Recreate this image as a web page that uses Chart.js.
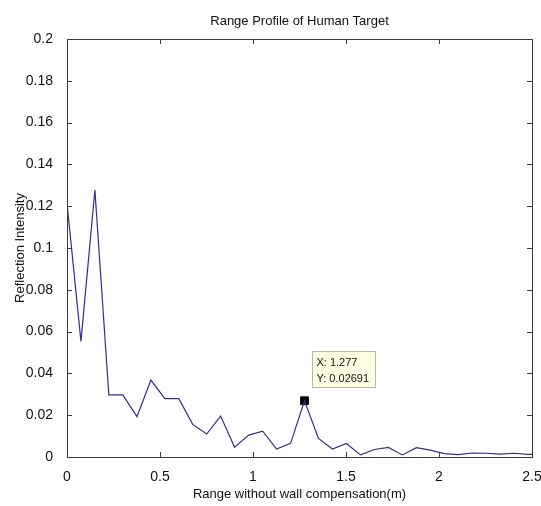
<!DOCTYPE html>
<html>
<head>
<meta charset="utf-8">
<script src="https://cdn.jsdelivr.net/npm/chart.js@4.4.0/dist/chart.umd.min.js"></script>
<style>
  html, body { margin: 0; padding: 0; background: #fff; }
</style>
</head>
<body>
<canvas id="rangeChart" width="541" height="506"></canvas>
<script>
// range bins (m) and reflection intensity per bin
const rangeM = [0.000, 0.075, 0.150, 0.225, 0.300, 0.376, 0.451, 0.526, 0.601, 0.676,
                0.751, 0.826, 0.901, 0.977, 1.052, 1.127, 1.202, 1.277, 1.352, 1.427,
                1.502, 1.578, 1.653, 1.728, 1.803, 1.878, 1.953, 2.028, 2.103, 2.178,
                2.254, 2.329, 2.404, 2.479, 2.554];
const intensity = [0.1215, 0.0553, 0.1277, 0.0297, 0.0297, 0.0193, 0.0368, 0.0279, 0.0279, 0.0156,
                   0.0110, 0.0196, 0.0047, 0.0105, 0.0124, 0.0038, 0.0065, 0.02691, 0.0089, 0.0038,
                   0.0065, 0.0010, 0.0036, 0.0046, 0.0010, 0.0045, 0.0033, 0.0016, 0.0011, 0.0019,
                   0.0018, 0.0014, 0.0018, 0.0013, 0.0010];

// data cursor
const tipRange = 1.277;
const tipIntensity = 0.02691;

const xTicks = [0, 0.5, 1, 1.5, 2, 2.5];
const yTicks = [0, 0.02, 0.04, 0.06, 0.08, 0.1, 0.12, 0.14, 0.16, 0.18, 0.2];

const titleText = 'Range Profile of Human Target';
const FONT = '"Liberation Sans", Arial, sans-serif';

const fmt = v => String(Number(v.toFixed(3)));

// box around the axes with inward ticks on all four sides, plus the title
const matlabAxes = {
  id: 'matlabAxes',
  afterDraw(chart) {
    const {ctx, chartArea: a, scales} = chart;
    ctx.save();
    ctx.strokeStyle = '#3c3c3c';
    ctx.lineWidth = 1;
    ctx.strokeRect(Math.round(a.left) + 0.5, Math.round(a.top) + 0.5,
                   Math.round(a.right - a.left), Math.round(a.bottom - a.top));
    const len = 5;
    ctx.beginPath();
    xTicks.forEach(v => {
      const x = Math.round(scales.x.getPixelForValue(v)) + 0.5;
      ctx.moveTo(x, a.bottom); ctx.lineTo(x, a.bottom - len);
      ctx.moveTo(x, a.top); ctx.lineTo(x, a.top + len);
    });
    yTicks.forEach(v => {
      const y = Math.round(scales.y.getPixelForValue(v)) + 0.5;
      ctx.moveTo(a.left, y); ctx.lineTo(a.left + len, y);
      ctx.moveTo(a.right, y); ctx.lineTo(a.right - len, y);
    });
    ctx.stroke();

    ctx.fillStyle = '#111';
    ctx.font = '13px ' + FONT;
    ctx.textAlign = 'center';
    ctx.textBaseline = 'middle';
    ctx.fillText(titleText, (a.left + a.right) / 2, 21);
    ctx.restore();
  }
};

// yellow data tip next to the cursor marker
const dataTip = {
  id: 'dataTip',
  afterDatasetsDraw(chart) {
    const {ctx, scales} = chart;
    const px = scales.x.getPixelForValue(tipRange);
    const py = scales.y.getPixelForValue(tipIntensity);
    const bx = Math.round(px + 7) + 0.5;
    const by = Math.round(py - 50) + 0.5;
    const bw = 63, bh = 36;
    ctx.save();
    ctx.fillStyle = '#ffffe4';
    ctx.strokeStyle = '#b8b8a0';
    ctx.lineWidth = 1;
    ctx.fillRect(bx, by, bw, bh);
    ctx.strokeRect(bx, by, bw, bh);
    ctx.fillStyle = '#111';
    ctx.font = '11px ' + FONT;
    ctx.textAlign = 'left';
    ctx.textBaseline = 'middle';
    ctx.fillText('X: ' + tipRange, bx + 4, by + 11);
    ctx.fillText('Y: ' + tipIntensity, bx + 4, by + 27);
    ctx.restore();
  }
};

new Chart(document.getElementById('rangeChart'), {
  type: 'line',
  data: {
    datasets: [{
      data: rangeM.map((r, i) => ({x: r, y: intensity[i]})),
      borderColor: '#30308a',
      borderWidth: 1.2,
      pointRadius: 0,
      tension: 0
    }, {
      data: [{x: tipRange, y: tipIntensity}],
      showLine: false,
      pointStyle: 'rect',
      pointRadius: 5.5,
      backgroundColor: '#000',
      borderColor: '#000',
      borderWidth: 1
    }]
  },
  options: {
    responsive: false,
    animation: false,
    layout: { padding: { top: 39, right: 9, left: 0, bottom: 0 } },
    plugins: { legend: { display: false }, tooltip: { enabled: false } },
    scales: {
      x: {
        type: 'linear',
        min: 0, max: 2.5,
        afterBuildTicks: s => { s.ticks = xTicks.map(v => ({value: v})); },
        afterFit: s => { s.height = 49; s.paddingLeft = 0; s.paddingRight = 0; },
        grid: { display: false },
        border: { display: false },
        ticks: {
          padding: 4,
          maxRotation: 0,
          color: '#111',
          font: { family: FONT, size: 14 },
          callback: v => fmt(v)
        },
        title: {
          display: true,
          text: 'Range without wall compensation(m)',
          color: '#111',
          font: { family: FONT, size: 13 },
          padding: { top: 0, bottom: 4 }
        }
      },
      y: {
        min: 0, max: 0.2,
        afterBuildTicks: s => { s.ticks = yTicks.map(v => ({value: v})); },
        afterFit: s => { s.width = 67; s.paddingTop = 0; s.paddingBottom = 0; },
        grid: { display: false },
        border: { display: false },
        ticks: {
          padding: 6,
          color: '#111',
          font: { family: FONT, size: 14 },
          callback: v => fmt(v)
        },
        title: {
          display: true,
          text: 'Reflection Intensity',
          color: '#111',
          font: { family: FONT, size: 13 },
          padding: { top: 13, bottom: 0 }
        }
      }
    }
  },
  plugins: [matlabAxes, dataTip]
});
</script>
</body>
</html>
